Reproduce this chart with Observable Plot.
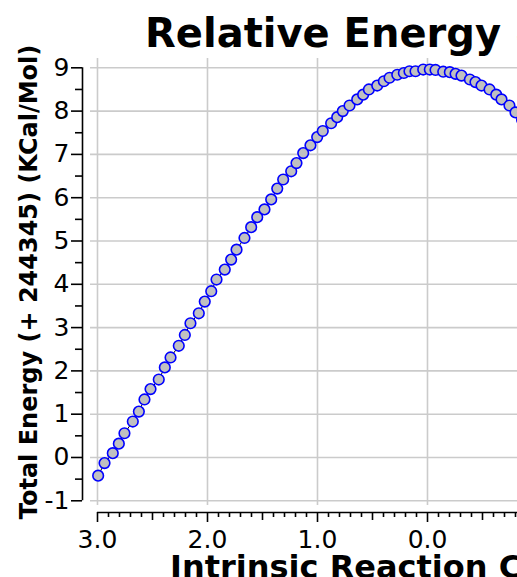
<!DOCTYPE html>
<html><head><meta charset="utf-8">
<script src="https://cdn.jsdelivr.net/npm/d3@7"></script>
<script src="https://cdn.jsdelivr.net/npm/@observablehq/plot@0.6"></script>
<style>
body{margin:0;background:#fff;overflow:hidden}
#chart{width:517px;height:577px;overflow:hidden;position:relative}
#chart svg{max-width:none !important;width:800px !important;height:577px !important}
</style>
</head><body><div id="chart"></div>
<script>
// Data
const irc = [2.994, 2.936, 2.861, 2.806, 2.755, 2.679, 2.624, 2.573, 2.518, 2.443,
  2.388, 2.336, 2.261, 2.206, 2.155, 2.079, 2.025, 1.966, 1.918, 1.843,
  1.785, 1.736, 1.664, 1.603, 1.548, 1.482, 1.421, 1.366, 1.312, 1.239,
  1.191, 1.130, 1.064, 1.003, 0.952, 0.876, 0.821, 0.770, 0.709, 0.639,
  0.585, 0.533, 0.457, 0.397, 0.345, 0.275, 0.215, 0.164, 0.109, 0.039,
  -0.021, -0.073, -0.143, -0.203, -0.255, -0.309, -0.385, -0.436, -0.491, -0.564,
  -0.625, -0.673, -0.745, -0.800, -0.860];
const energy = [-0.42, -0.13, 0.10, 0.32, 0.56, 0.83, 1.06, 1.34, 1.58, 1.80,
  2.08, 2.31, 2.58, 2.83, 3.10, 3.33, 3.60, 3.84, 4.11, 4.34,
  4.57, 4.80, 5.07, 5.32, 5.55, 5.73, 5.96, 6.21, 6.42, 6.61,
  6.80, 7.03, 7.21, 7.40, 7.54, 7.72, 7.86, 8.00, 8.13, 8.27,
  8.38, 8.50, 8.59, 8.69, 8.77, 8.84, 8.88, 8.92, 8.92, 8.96,
  8.96, 8.95, 8.91, 8.90, 8.86, 8.82, 8.73, 8.67, 8.59, 8.50,
  8.38, 8.27, 8.13, 7.97, 7.80];
const xMajorTicks = [3, 2, 1, 0];
const xHalfTicks = [2.5, 1.5, 0.5, -0.5];
const xMinorTicks = [2.9,2.8,2.7,2.6,2.4,2.3,2.2,2.1,1.9,1.8,1.7,1.6,1.4,1.3,1.2,1.1,
  0.9,0.8,0.7,0.6,0.4,0.3,0.2,0.1,-0.1,-0.2,-0.3,-0.4,-0.6,-0.7,-0.8,-0.9];
const yMajorTicks = [-1, 0, 1, 2, 3, 4, 5, 6, 7, 8, 9];
const yMinorTicks = [-0.5, 0.5, 1.5, 2.5, 3.5, 4.5, 5.5, 6.5, 7.5, 8.5];
const titleText = "Relative Energy & Gradient";
const xLabel = "Intrinsic Reaction Coordinate";
const yLabel = "Total Energy (+ 244345) (KCal/Mol)";

const xDomain = [3.0636, -3.0636];
const yDomain = [-1.109, 9.215];
const xSpineEnd = -1;
const data = irc.map((x, i) => ({x, y: energy[i]}));

const font = "DejaVu Sans, Verdana, sans-serif";
const grid = "#cbcbcb";

const chart = Plot.plot({
  width: 800, height: 577,
  marginLeft: 90, marginRight: 36, marginTop: 58, marginBottom: 72,
  x: {domain: xDomain},
  y: {domain: yDomain},
  style: {fontFamily: font, fontSize: "25px", color: "black", background: "white", overflow: "visible", maxWidth: "none"},
  marks: [
    Plot.ruleX(xMajorTicks, {stroke: grid, strokeWidth: 1.6}),
    Plot.ruleY(yMajorTicks, {stroke: grid, strokeWidth: 1.6}),
    Plot.ruleX([xDomain[0]], {y1: yMajorTicks[0], y2: yMajorTicks[yMajorTicks.length - 1], dx: -8, stroke: "black", strokeWidth: 1.6}),
    Plot.ruleY([yDomain[0]], {x1: xMajorTicks[0], x2: xSpineEnd, dy: 7, stroke: "black", strokeWidth: 1.6}),
    Plot.axisY(yMajorTicks, {anchor: "left", dx: -8, tickSize: 11, tickPadding: 2, tickFormat: d => String(d), fontSize: 25, label: null, stroke: "black", fill: "black", strokeWidth: 1.6}),
    Plot.axisY(yMinorTicks, {anchor: "left", dx: -8, tickSize: 7, fill: "none", label: null, stroke: "black", strokeWidth: 1.6}),
    Plot.axisX(xMajorTicks, {anchor: "bottom", dy: 7, tickSize: 10, tickPadding: 8, tickFormat: d => d.toFixed(1), fontSize: 25, label: null, stroke: "black", fill: "black", strokeWidth: 1.6}),
    Plot.axisX(xHalfTicks, {anchor: "bottom", dy: 7, tickSize: 8, fill: "none", label: null, stroke: "black", strokeWidth: 1.6}),
    Plot.axisX(xMinorTicks, {anchor: "bottom", dy: 7, tickSize: 5, fill: "none", label: null, stroke: "black", strokeWidth: 1.6}),
    Plot.line(data, {x: "x", y: "y", stroke: "black", strokeWidth: 1}),
    Plot.dot(data, {x: "x", y: "y", r: 5.3, fill: "#c0c0c0", stroke: "#0000ff", strokeWidth: 1.6})
  ]
});

const svg = d3.select(chart);
svg.append("text").attr("x", 145).attr("y", 47).attr("text-anchor", "start")
  .attr("font-family", font).attr("font-size", 40).attr("font-weight", "bold")
  .attr("fill", "black").text(titleText);
svg.append("text").attr("x", 170).attr("y", 578).attr("text-anchor", "start")
  .attr("font-family", font).attr("font-size", 32).attr("font-weight", "bold")
  .attr("fill", "black").text(xLabel);
svg.append("text").attr("transform", "translate(37,282) rotate(-90)")
  .attr("text-anchor", "middle")
  .attr("font-family", font).attr("font-size", 24).attr("font-weight", "bold")
  .attr("fill", "black").text(yLabel);

document.getElementById("chart").appendChild(chart);
</script>
</body></html>
